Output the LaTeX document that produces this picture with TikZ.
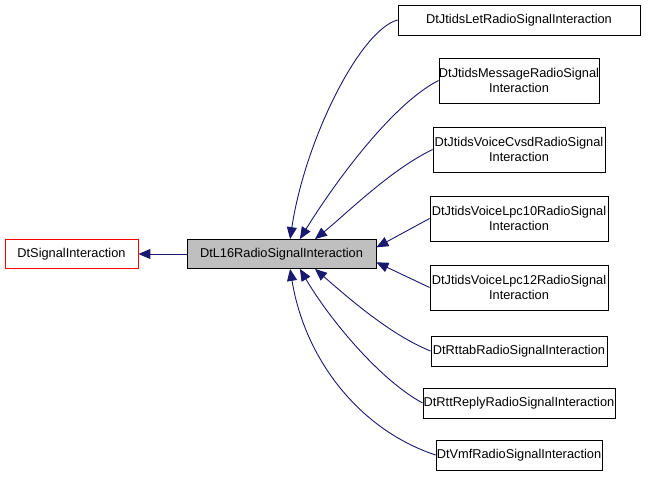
\documentclass[tikz,border=0pt]{standalone}
\usepackage{fontspec}
\setmainfont{Liberation Sans}
\usetikzlibrary{arrows.meta}
\definecolor{edge}{HTML}{191970}
\begin{document}
\begin{tikzpicture}[x=1pt,y=-1pt,
  box/.style={draw=black,fill=white,inner sep=0pt,align=center,font=\fontsize{12.8}{15}\selectfont,line width=0.8pt},
  inh/.style={draw=edge,line width=0.9pt,-{Stealth[length=12pt,width=10pt,inset=0pt]}}]
\useasboundingbox (0,0) rectangle (648,477);
\node[box,draw=red,minimum width=133,minimum height=29] (sig) at (71.5,254) {DtSignalInteraction};
\node[box,fill=black!25,minimum width=189,minimum height=29] (p) at (281.5,254) {DtL16RadioSignalInteraction};
\node[box,minimum width=242,minimum height=30] (c1) at (519,20) {DtJtidsLetRadioSignalInteraction};
\node[box,minimum width=158,minimum height=45] (c2) at (519,80.5) {DtJtidsMessageRadioSignal\\Interaction};
\node[box,minimum width=172,minimum height=45] (c3) at (519,149.5) {DtJtidsVoiceCvsdRadioSignal\\Interaction};
\node[box,minimum width=178,minimum height=45] (c4) at (519,218.5) {DtJtidsVoiceLpc10RadioSignal\\Interaction};
\node[box,minimum width=178,minimum height=45] (c5) at (519,287.5) {DtJtidsVoiceLpc12RadioSignal\\Interaction};
\node[box,minimum width=176,minimum height=30] (c6) at (519,351) {DtRttabRadioSignalInteraction};
\node[box,minimum width=192,minimum height=30] (c7) at (519,403) {DtRttReplyRadioSignalInteraction};
\node[box,minimum width=166,minimum height=30] (c8) at (519,455) {DtVmfRadioSignalInteraction};
\draw[inh] (p) -- (sig);
\draw[inh] (c1.west) .. controls (360,30) and (305,140) .. (p.60);
\draw[inh] (c2.west) .. controls (390,105) and (330,190) .. (p.39);
\draw[inh] (c3.west) .. controls (390,170) and (345,215) .. (p.24);
\draw[inh] (c4.west) -- (p.4);
\draw[inh] (c5.west) -- (p.-5);
\draw[inh] (c6.west) .. controls (390,335) and (345,295) .. (p.-24);
\draw[inh] (c7.west) .. controls (380,380) and (330,320) .. (p.-39);
\draw[inh] (c8.west) .. controls (360,430) and (305,360) .. (p.-60);
\end{tikzpicture}
\end{document}
